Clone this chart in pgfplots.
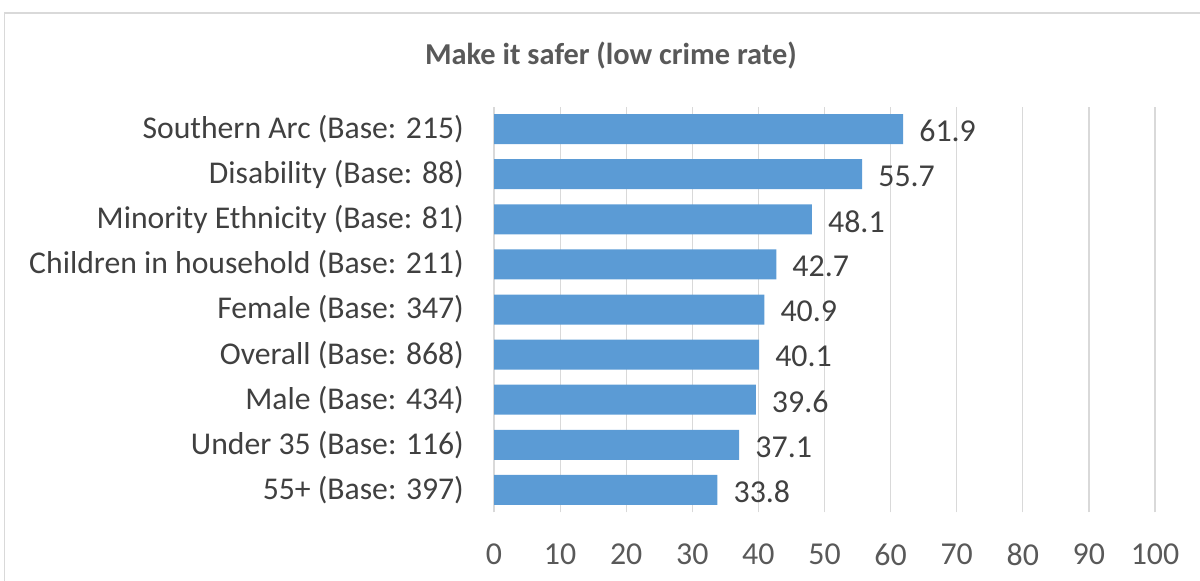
\documentclass[border=0pt]{standalone}
\usepackage{fontspec}
\setmainfont{Carlito}
\usepackage{pgfplots}
\pgfplotsset{compat=1.18}
\definecolor{barblue}{HTML}{5B9BD5}
\definecolor{gridgray}{HTML}{D9D9D9}
\definecolor{titlegray}{HTML}{595959}
\definecolor{labelgray}{HTML}{404040}
\begin{document}
\begin{tikzpicture}
\useasboundingbox (0bp,0bp) rectangle (1200bp,581bp);
\draw[color=gridgray, line width=1.5bp] (4.5bp,-20bp) -- (4.5bp,568bp) -- (1220bp,568bp);
\node[font=\bfseries\fontsize{30.5}{36}\selectfont, text=titlegray, inner sep=0, anchor=base] at (611bp,516bp) {Make it safer (low crime rate)};
\begin{axis}[
  at={(494bp,68.5bp)}, anchor=south west,
  scale only axis, width=661bp, height=406bp,
  xbar, bar width=30bp,
  xmin=0, xmax=100, ymin=-0.5, ymax=8.5,
  xtick={0,10,...,100}, ytick={0,...,8},
  yticklabels={55+ (Base: 397),Under 35 (Base: 116),Male (Base: 434),Overall (Base: 868),Female (Base: 347),Children in household (Base: 211),Minority Ethnicity (Base: 81),Disability (Base: 88),Southern Arc (Base: 215)},
  xmajorgrids, grid style={color=gridgray, line width=1.2bp},
  axis line style={draw=none}, major tick length=0,
  /pgf/number format/assume math mode=true,
  xticklabel style={anchor=center, inner sep=0, yshift=-42bp, font=\fontsize{32}{38}\selectfont, text=titlegray},
  yticklabel style={anchor=east, inner sep=0, xshift=-30bp, font=\fontsize{31.8}{38}\selectfont, text=labelgray},
  nodes near coords,
  nodes near coords style={anchor=west, inner sep=0, xshift=16bp, yshift=-2bp, font=\fontsize{32}{38}\selectfont, text=labelgray, /pgf/number format/.cd, fixed, fixed zerofill, precision=1, assume math mode=true},
]
\addplot[fill=barblue, draw=none] coordinates {
(33.8,0) (37.1,1) (39.6,2) (40.1,3) (40.9,4) (42.7,5) (48.1,6) (55.7,7) (61.9,8)
};
\end{axis}
\end{tikzpicture}
\end{document}
